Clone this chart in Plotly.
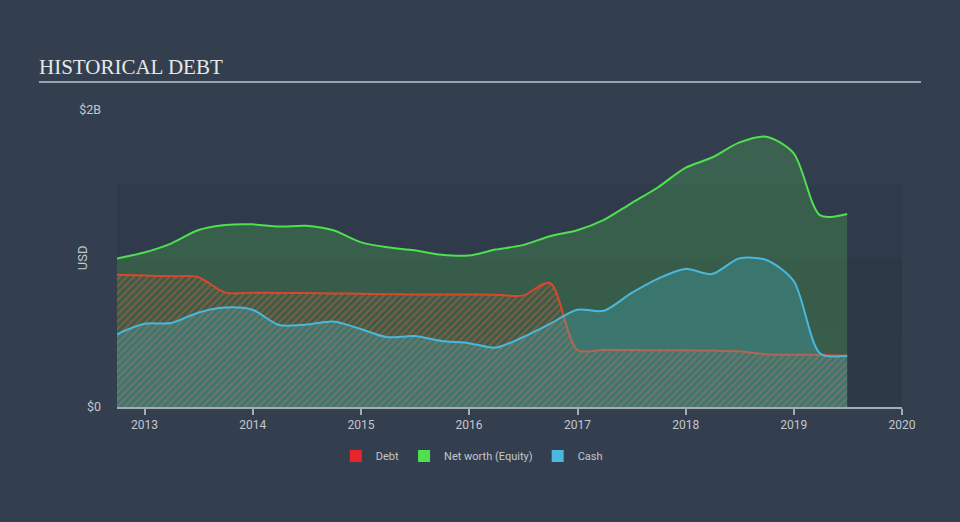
import plotly.graph_objects as go

dates = ["2012-09-30", "2012-12-31", "2013-03-31", "2013-06-30", "2013-09-30", "2013-12-31",
         "2014-03-31", "2014-06-30", "2014-09-30", "2014-12-31", "2015-03-31", "2015-06-30",
         "2015-09-30", "2015-12-31", "2016-03-31", "2016-06-30", "2016-09-30", "2016-12-31",
         "2017-03-31", "2017-06-30", "2017-09-30", "2017-12-31", "2018-03-31", "2018-06-30",
         "2018-09-30", "2018-12-31", "2019-03-31", "2019-06-30"]

# values in billions USD
net_worth = [1.00, 1.04, 1.10, 1.19, 1.225, 1.23, 1.215, 1.22, 1.19, 1.11, 1.075, 1.055,
             1.025, 1.02, 1.06, 1.09, 1.15, 1.19, 1.26, 1.37, 1.48, 1.61, 1.68, 1.78,
             1.82, 1.71, 1.29, 1.30]
debt = [0.89, 0.885, 0.88, 0.875, 0.77, 0.77, 0.768, 0.767, 0.765, 0.762, 0.76, 0.758,
        0.757, 0.757, 0.756, 0.75, 0.835, 0.385, 0.385, 0.383, 0.382, 0.382, 0.38, 0.375,
        0.355, 0.352, 0.35, 0.345]
cash = [0.49, 0.56, 0.565, 0.635, 0.67, 0.655, 0.552, 0.555, 0.575, 0.525, 0.47, 0.478,
        0.445, 0.43, 0.40, 0.47, 0.56, 0.655, 0.648, 0.765, 0.865, 0.93, 0.895, 1.0,
        0.99, 0.85, 0.36, 0.345]

year_ticks = ["2013-01-01", "2014-01-01", "2015-01-01", "2016-01-01", "2017-01-01",
              "2018-01-01", "2019-01-01", "2020-01-01"]
year_labels = ["2013", "2014", "2015", "2016", "2017", "2018", "2019", "2020"]

B = 1e9
nw = [v * B for v in net_worth]
db = [v * B for v in debt]
cs = [v * B for v in cash]

GREEN = "#4fe04f"
RED = "#d9482b"
BLUE = "#4ab8dc"

fig = go.Figure()

fig.add_trace(go.Scatter(
    x=dates, y=nw, mode="lines", name="Net worth (Equity)",
    line=dict(color=GREEN, width=2, shape="spline", smoothing=0.8),
    fill="tozeroy", fillcolor="rgba(78,178,82,0.30)", showlegend=False,
    hoverinfo="skip"))

fig.add_trace(go.Scatter(
    x=dates, y=db, mode="lines", name="Debt",
    line=dict(color=RED, width=2, shape="spline", smoothing=0.8),
    fill="tozeroy", fillcolor="rgba(0,0,0,0)",
    fillpattern=dict(shape="/", fgcolor="rgba(232,92,52,0.78)", fillmode="overlay",
                     size=5, solidity=0.45),
    showlegend=False, hoverinfo="skip"))

fig.add_trace(go.Scatter(
    x=dates, y=cs, mode="lines", name="Cash",
    line=dict(color=BLUE, width=2, shape="spline", smoothing=0.8),
    fill="tozeroy", fillcolor="rgba(71,184,205,0.28)", showlegend=False,
    hoverinfo="skip"))

# legend swatches
for name, col in [("Debt", "#e8262a"), ("Net worth (Equity)", "#4de24d"), ("Cash", "#4ab8e0")]:
    fig.add_trace(go.Scatter(x=[None], y=[None], mode="markers", name=name,
                             marker=dict(symbol="square", size=12, color=col)))

shapes = [
    dict(type="rect", xref="paper", yref="y", x0=0, x1=1, y0=1.0 * B, y1=1.5 * B,
         fillcolor="#2f3a4a", line=dict(width=0), layer="below"),
    dict(type="rect", xref="paper", yref="y", x0=0, x1=1, y0=0.5 * B, y1=1.0 * B,
         fillcolor="#2d3847", line=dict(width=0), layer="below"),
    dict(type="rect", xref="paper", yref="y", x0=0, x1=1, y0=0, y1=0.5 * B,
         fillcolor="#2e3948", line=dict(width=0), layer="below"),
    dict(type="line", xref="paper", yref="paper", x0=-0.0994, x1=1.0242, y0=1.094, y1=1.094,
         line=dict(color="#9aa3ad", width=2)),
]

fig.update_layout(
    width=960, height=522,
    margin=dict(l=117, r=58, t=110, b=115),
    paper_bgcolor="#333f4f",
    plot_bgcolor="rgba(0,0,0,0)",
    shapes=shapes,
    showlegend=True,
    legend=dict(orientation="h", x=0.452, xanchor="center", y=-0.165, yanchor="middle",
                font=dict(family="Roboto, Arial, sans-serif", size=11, color="#c3c7cc"),
                bgcolor="rgba(0,0,0,0)", itemwidth=30, tracegroupgap=0),
    annotations=[
        dict(text="HISTORICAL DEBT", xref="paper", yref="paper", x=-0.1022, y=1.145,
             xanchor="left", yanchor="middle", showarrow=False,
             font=dict(family="Liberation Serif, Times New Roman, serif", size=21, color="#e8e8e8")),
        dict(text="USD", xref="paper", yref="paper", x=-0.043, y=0.502, textangle=-90,
             xanchor="center", yanchor="middle", showarrow=False,
             font=dict(family="Roboto, Arial, sans-serif", size=13, color="#c3c7cc")),
    ],
)

fig.update_xaxes(
    type="date", range=["2012-09-30", "2020-01-01"],
    tickvals=year_ticks, ticktext=year_labels,
    showgrid=False, zeroline=False,
    showline=True, linecolor="#a4acb5", linewidth=1.5,
    ticks="outside", ticklen=6, tickcolor="#a4acb5", tickwidth=1.5,
    tickfont=dict(family="Roboto, Arial, sans-serif", size=12, color="#c3c7cc"),
)

fig.update_yaxes(
    range=[0, 2 * B], tickvals=[0, 2 * B], ticktext=["$0", "$2B"],
    showgrid=False, zeroline=False, showline=False,
    ticks="", ticklabelstandoff=15,
    tickfont=dict(family="Roboto, Arial, sans-serif", size=12.5, color="#c3c7cc"),
)

fig.write_html("out.html")
